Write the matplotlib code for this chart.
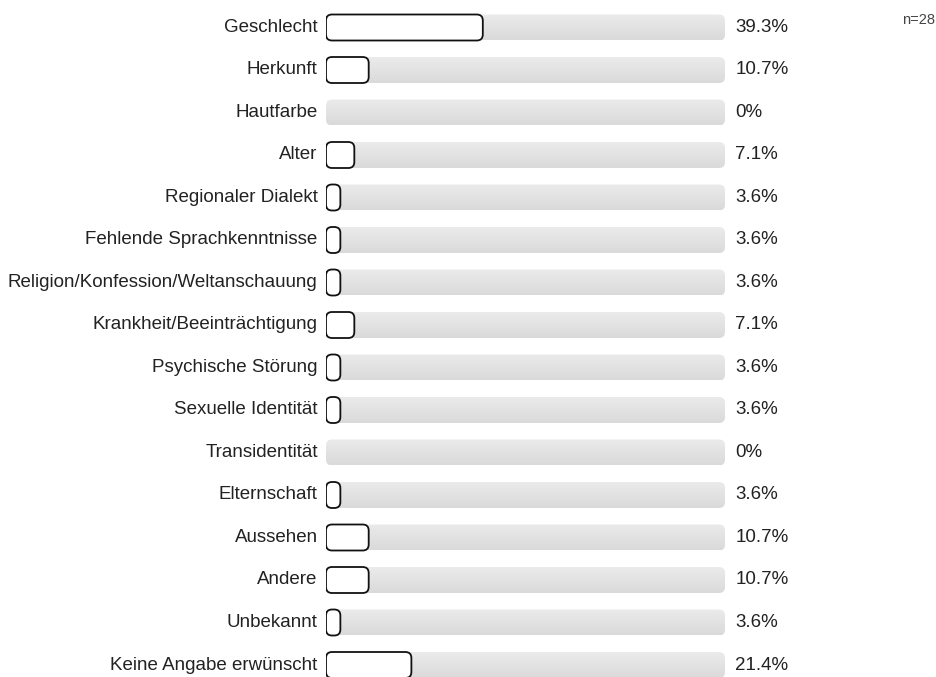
import numpy as np
import matplotlib
matplotlib.use("Agg")
import matplotlib.pyplot as plt
from matplotlib.patches import FancyBboxPatch
from matplotlib.colors import LinearSegmentedColormap

plt.rcParams['font.family'] = ['Liberation Sans', 'DejaVu Sans']

categories = [
    "Geschlecht", "Herkunft", "Hautfarbe", "Alter", "Regionaler Dialekt",
    "Fehlende Sprachkenntnisse", "Religion/Konfession/Weltanschauung",
    "Krankheit/Beeinträchtigung", "Psychische Störung", "Sexuelle Identität",
    "Transidentität", "Elternschaft", "Aussehen", "Andere", "Unbekannt",
    "Keine Angabe erwünscht",
]
percent = [39.3, 10.7, 0, 7.1, 3.6, 3.6, 3.6, 7.1, 3.6, 3.6, 0, 3.6, 10.7, 10.7, 3.6, 21.4]
sample_note = "n=28"

W, H = 937, 677
fig = plt.figure(figsize=(W / 100, H / 100), dpi=100)

# axes spanning the bar track, rows laid out top to bottom
x0_px, x1_px = 326, 725
row0_px, row_step_px = 27.5, 42.5
ax = fig.add_axes([x0_px / W, 0, (x1_px - x0_px) / W, 1])
ax.set_xlim(0, 100)
ax.set_ylim((H - row0_px) / row_step_px, -row0_px / row_step_px)
ax.axis("off")

px_x = (x1_px - x0_px) / 100.0     # pixels per percent
px_y = row_step_px                 # pixels per row
aspect = px_x / px_y
bar_h_px = 26
bh = bar_h_px / px_y
radius_px = 6
r = radius_px / px_x

grad = LinearSegmentedColormap.from_list("track", ["#ebebeb", "#dadada"])
gradient = np.linspace(0, 1, 64).reshape(-1, 1)

for i, (cat, v) in enumerate(zip(categories, percent)):
    # grey background track
    track = FancyBboxPatch((0, i - bh / 2), 100, bh,
                           boxstyle=f"round,pad=0,rounding_size={r}",
                           mutation_aspect=aspect, linewidth=0,
                           facecolor="none", edgecolor="none")
    ax.add_patch(track)
    im = ax.imshow(gradient, cmap=grad, aspect="auto",
                   extent=(0, 100, i + bh / 2, i - bh / 2), zorder=1)
    im.set_clip_path(track)

    # value bar
    if v > 0:
        bar = FancyBboxPatch((0, i - bh / 2), v, bh,
                             boxstyle=f"round,pad=0,rounding_size={min(r, v / 2)}",
                             mutation_aspect=aspect, linewidth=1.3,
                             facecolor="white", edgecolor="#111111", zorder=3)
        ax.add_patch(bar)

    label = "0%" if v == 0 else f"{v:.1f}%"
    ax.annotate(label, xy=(100, i), xytext=(7.5, 0), textcoords="offset points",
                ha="left", va="center", fontsize=13.5, color="#222222",
                annotation_clip=False)
    ax.annotate(cat, xy=(0, i), xytext=(-6, 0), textcoords="offset points",
                ha="right", va="center", fontsize=13.5, color="#222222",
                annotation_clip=False)

fig.text(935 / W, 1 - 20 / H, sample_note, ha="right", va="center",
         fontsize=10.5, color="#444444")

fig.savefig("out.png", dpi=100)
